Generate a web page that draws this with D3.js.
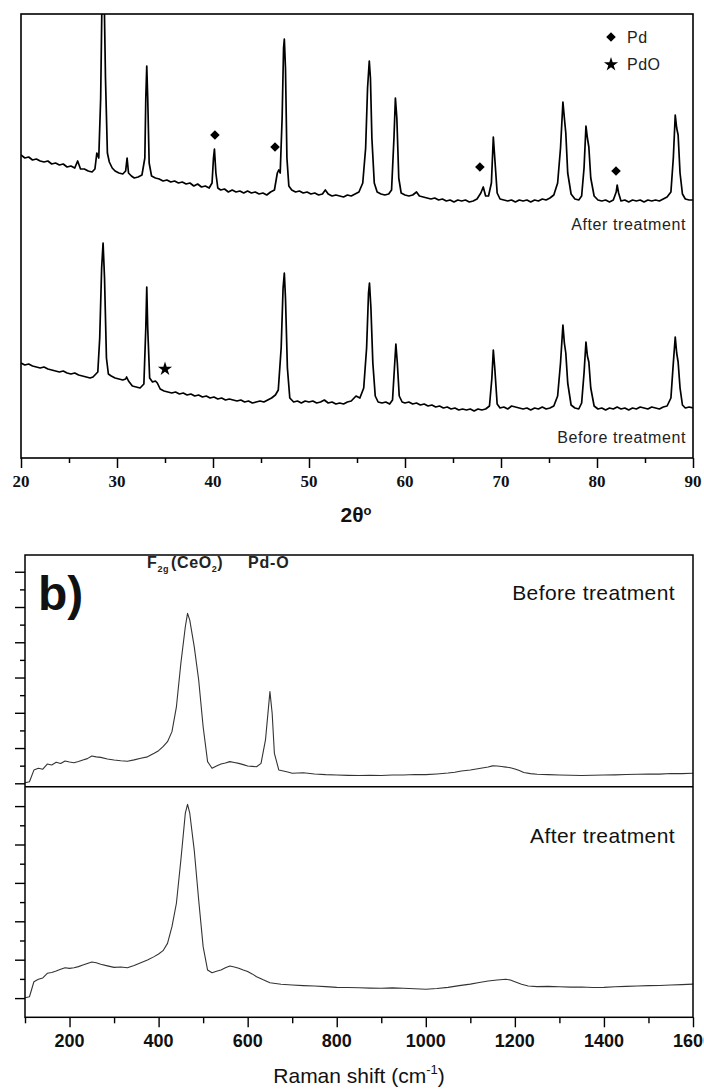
<!DOCTYPE html>
<html><head><meta charset="utf-8">
<script src="https://cdn.jsdelivr.net/npm/d3@7"></script>
<style>
html,body{margin:0;padding:0;background:#fff;}
svg{display:block;}
</style></head>
<body>
<svg id="chart" width="704" height="1090"></svg>
<script>
// ---------- DATA ----------
// XRD: 2θ (deg), intensity (a.u., traces already offset)
const xrdTicks = [20,30,40,50,60,70,80,90];
const xrdAfter = [[20.0,303],[20.4,300],[20.8,301],[21.2,298],[21.6,299],[22.0,297],[22.4,296],[22.8,297],[23.2,294],[23.6,295],[24.0,293],[24.4,294],[24.8,291],[25.2,292],[25.6,290],[25.9,297],[26.2,289],[26.6,289],[27.0,287],[27.4,286],[27.7,289],[27.9,305],[28.1,300],[28.3,360],[28.45,470],[28.55,480],[28.65,470],[28.8,380],[29.0,305],[29.2,296],[29.5,290],[29.8,287],[30.2,285],[30.6,284],[30.9,287],[31.05,300],[31.2,285],[31.5,282],[31.8,280],[32.2,281],[32.6,283],[32.9,300],[33.0,360],[33.1,392],[33.2,360],[33.35,295],[33.6,282],[34.0,280],[34.4,279],[34.8,277],[35.2,278],[35.6,276],[36.0,277],[36.4,275],[36.8,276],[37.2,274],[37.6,275],[38.0,272],[38.4,274],[38.8,271],[39.2,272],[39.6,270],[39.9,275],[40.05,300],[40.15,309],[40.3,285],[40.5,270],[40.8,268],[41.2,269],[41.6,266],[42.0,268],[42.4,266],[42.8,267],[43.2,265],[43.6,267],[44.0,265],[44.4,266],[44.8,264],[45.2,265],[45.6,263],[46.0,266],[46.4,268],[46.7,285],[46.85,288],[47.0,285],[47.2,340],[47.35,410],[47.43,419],[47.55,390],[47.7,300],[47.9,272],[48.2,268],[48.6,266],[49.0,267],[49.4,265],[49.8,266],[50.2,264],[50.6,265],[51.0,263],[51.4,264],[51.7,268],[52.0,264],[52.4,262],[52.8,263],[53.2,262],[53.6,261],[54.0,263],[54.4,262],[54.8,264],[55.2,266],[55.6,275],[55.9,310],[56.1,370],[56.28,397],[56.4,380],[56.55,320],[56.8,275],[57.1,266],[57.5,264],[57.9,263],[58.3,264],[58.6,268],[58.85,320],[59.0,360],[59.15,340],[59.35,280],[59.6,265],[60.0,263],[60.4,262],[60.8,263],[61.2,266],[61.5,262],[61.9,261],[62.3,260],[62.7,259],[63.1,260],[63.5,258],[63.9,259],[64.3,257],[64.7,258],[65.1,256],[65.5,258],[65.9,257],[66.3,258],[66.7,256],[67.1,257],[67.5,259],[67.9,265],[68.15,271],[68.4,262],[68.7,262],[69.0,275],[69.2,321],[69.35,300],[69.6,265],[69.9,259],[70.3,258],[70.7,257],[71.1,258],[71.5,256],[71.9,258],[72.3,257],[72.7,258],[73.1,256],[73.5,258],[73.9,257],[74.3,259],[74.7,258],[75.1,260],[75.5,263],[75.9,275],[76.2,310],[76.45,356],[76.6,340],[76.75,325],[76.95,285],[77.3,264],[77.7,259],[78.1,258],[78.4,262],[78.65,290],[78.85,332],[79.0,320],[79.15,311],[79.35,280],[79.7,262],[80.1,258],[80.5,257],[80.9,258],[81.3,256],[81.7,258],[82.0,266],[82.1,273],[82.25,265],[82.5,257],[82.9,258],[83.3,256],[83.7,258],[84.1,257],[84.5,258],[84.9,256],[85.3,258],[85.7,257],[86.1,258],[86.5,257],[86.9,259],[87.3,261],[87.7,266],[87.95,300],[88.15,343],[88.3,330],[88.45,323],[88.65,285],[88.9,264],[89.2,259],[89.6,258],[90.0,258]];
const xrdBefore = [[20.0,95],[20.4,93],[20.8,94],[21.2,92],[21.6,91],[22.0,90],[22.4,91],[22.8,89],[23.2,88],[23.6,87],[24.0,86],[24.4,87],[24.8,85],[25.2,84],[25.6,85],[26.0,83],[26.4,82],[26.8,81],[27.2,80],[27.5,81],[27.8,84],[28.0,86],[28.2,120],[28.4,190],[28.55,215],[28.7,180],[28.9,100],[29.1,84],[29.4,82],[29.8,80],[30.2,79],[30.6,78],[30.9,79],[31.0,81],[31.2,77],[31.6,72],[32.0,71],[32.4,70],[32.8,74],[33.0,130],[33.1,171],[33.2,130],[33.4,80],[33.7,76],[34.0,77],[34.2,75],[34.5,69],[34.9,67],[35.3,66],[35.7,65],[36.1,66],[36.5,64],[36.9,65],[37.3,63],[37.7,64],[38.1,62],[38.5,63],[38.9,61],[39.3,62],[39.7,60],[40.1,61],[40.5,59],[40.9,60],[41.3,58],[41.7,59],[42.1,58],[42.5,57],[42.9,58],[43.3,56],[43.7,57],[44.1,55],[44.5,56],[44.9,57],[45.3,56],[45.7,58],[46.1,60],[46.5,63],[46.8,68],[47.1,110],[47.3,170],[47.43,185],[47.55,160],[47.75,90],[48.0,60],[48.4,56],[48.8,57],[49.2,55],[49.6,57],[50.0,56],[50.4,57],[50.8,55],[51.2,56],[51.6,58],[52.0,55],[52.4,56],[52.8,54],[53.2,55],[53.6,54],[54.0,56],[54.4,57],[54.9,62],[55.3,60],[55.7,70],[56.0,110],[56.2,165],[56.3,175],[56.45,150],[56.65,95],[56.9,62],[57.2,56],[57.6,55],[58.0,56],[58.4,54],[58.7,58],[58.9,90],[59.05,114],[59.2,95],[59.4,62],[59.7,56],[60.0,55],[60.4,56],[60.8,54],[61.2,55],[61.6,53],[62.0,54],[62.4,52],[62.8,53],[63.2,51],[63.6,52],[64.0,50],[64.4,51],[64.8,49],[65.2,50],[65.6,48],[66.0,49],[66.4,48],[66.8,49],[67.2,47],[67.6,49],[68.0,48],[68.4,49],[68.8,52],[69.05,80],[69.2,108],[69.35,90],[69.6,54],[69.9,50],[70.3,51],[70.7,49],[71.1,52],[71.5,51],[71.9,50],[72.3,49],[72.7,50],[73.1,48],[73.5,50],[73.9,49],[74.3,51],[74.7,49],[75.1,50],[75.5,52],[75.9,62],[76.2,95],[76.45,133],[76.6,115],[76.75,105],[76.95,75],[77.3,53],[77.7,50],[78.1,49],[78.4,55],[78.65,85],[78.85,116],[79.0,102],[79.15,96],[79.35,70],[79.7,52],[80.1,49],[80.5,50],[80.9,48],[81.3,50],[81.7,49],[82.1,51],[82.5,49],[82.9,50],[83.3,48],[83.7,50],[84.1,49],[84.5,51],[84.9,50],[85.3,49],[85.7,51],[86.1,50],[86.5,49],[86.9,51],[87.3,52],[87.7,60],[87.95,95],[88.15,121],[88.3,105],[88.45,96],[88.65,70],[88.9,53],[89.2,50],[89.6,51],[90.0,50]];
const pdMarks = [[40.2,323],[46.46,311],[67.8,291],[81.98,287]];
const pdoMarks = [[35.0,89]];
const legendItems = ["Pd","PdO"];
const xrdLabels = ["After treatment","Before treatment"];

// Raman: shift (cm^-1), intensity (a.u.)
const ramanTicks = [200,400,600,800,1000,1200,1400,1600];
const ramanBefore = [[100,3],[110,9],[120,75],[130,85],[140,80],[150,109],[160,104],[170,119],[180,112],[190,126],[200,121],[210,117],[220,124],[230,132],[240,140],[250,155],[260,150],[270,147],[285,138],[300,132],[315,128],[330,125],[345,133],[360,142],[375,150],[390,170],[400,185],[410,208],[420,236],[430,293],[440,434],[450,681],[460,888],[465,964],[470,926],[480,775],[490,586],[500,321],[510,123],[520,85],[530,98],[540,109],[550,115],[560,123],[570,118],[580,113],[590,106],[600,98],[610,96],[620,94],[630,113],[640,246],[650,520],[655,397],[660,170],[670,75],[680,70],[690,64],[700,57],[725,60],[750,53],[775,49],[800,47],[825,45],[850,44],[875,46],[900,44],[925,47],[950,47],[975,50],[1000,49],[1025,53],[1050,58],[1065,63],[1080,70],[1100,75],[1120,84],[1140,92],[1150,99],[1160,98],[1170,95],[1180,92],[1190,88],[1200,81],[1210,72],[1220,61],[1235,55],[1250,51],[1275,49],[1300,47],[1325,46],[1350,44],[1375,46],[1400,47],[1425,48],[1450,50],[1475,51],[1500,53],[1525,52],[1550,56],[1575,55],[1600,57]];
const ramanAfter = [[100,102],[110,107],[120,185],[130,198],[140,205],[150,229],[160,233],[170,241],[180,250],[190,258],[200,255],[210,258],[220,264],[230,272],[240,280],[250,288],[260,284],[270,276],[285,268],[300,260],[315,262],[330,258],[345,270],[360,284],[375,298],[390,316],[400,330],[410,347],[420,385],[430,472],[440,594],[450,819],[460,1063],[465,1109],[470,1063],[480,871],[490,611],[500,368],[510,246],[520,232],[530,240],[540,246],[550,258],[560,267],[570,262],[580,255],[590,246],[600,238],[610,226],[620,211],[635,195],[650,180],[675,172],[700,168],[725,165],[750,163],[775,160],[800,156],[825,155],[850,154],[875,152],[900,151],[925,153],[950,151],[975,149],[1000,146],[1025,150],[1050,156],[1075,165],[1100,173],[1120,181],[1140,189],[1160,194],[1180,198],[1190,194],[1200,185],[1215,172],[1230,163],[1250,160],[1275,161],[1300,159],[1325,157],[1350,158],[1375,155],[1400,156],[1425,159],[1450,161],[1475,163],[1500,165],[1525,166],[1550,168],[1575,170],[1600,173]];
const ramanLabels = ["Before treatment","After treatment"];

// ---------- DRAW ----------
const svg = d3.select("#chart");
const SANS = "'Liberation Sans',Arial,Helvetica,sans-serif";

// ===== Panel a: XRD =====
const xX = d3.scaleLinear().domain([20,90]).range([21,693]);
const yX = d3.scaleLinear().domain([0,444]).range([458,14]);

svg.append("clipPath").attr("id","clipX").append("rect")
  .attr("x",21).attr("y",14).attr("width",672).attr("height",444);

const lineX = d3.line().x(d=>xX(d[0])).y(d=>yX(d[1]));
const gX = svg.append("g").attr("clip-path","url(#clipX)");
[xrdAfter, xrdBefore].forEach(s=>{
  gX.append("path").attr("d",lineX(s)).attr("fill","none")
    .attr("stroke","#000").attr("stroke-width",1.7).attr("stroke-linejoin","round");
});

// frame
svg.append("rect").attr("x",xX(20)).attr("y",yX(444)).attr("width",xX(90)-xX(20)).attr("height",yX(0)-yX(444))
  .attr("fill","none").attr("stroke","#000").attr("stroke-width",1.6);

// x axis
const axX = d3.axisBottom(xX).tickValues(d3.range(20,91,5)).tickSize(0).tickFormat("");
const gAx = svg.append("g").attr("transform",`translate(0,${yX(0)})`).call(axX);
gAx.select(".domain").remove();
gAx.selectAll(".tick line").attr("y2",d=>d%10===0?10:5).attr("stroke","#000").attr("stroke-width",1.5);
svg.append("g").selectAll("text").data(xrdTicks).join("text")
  .attr("x",d=>xX(d)).attr("y",487).attr("text-anchor","middle")
  .attr("font-family","'Liberation Serif','Times New Roman',serif").attr("font-weight","bold")
  .attr("font-size",17).attr("fill","#111").text(d=>d);
const t2 = svg.append("text").attr("x",356).attr("y",522).attr("text-anchor","middle")
  .attr("font-family",SANS).attr("font-weight","bold").attr("font-size",21).attr("fill","#111");
t2.append("tspan").text("2θ");
t2.append("tspan").attr("dy",-7).attr("font-size",13).text("o");

// markers
svg.append("g").selectAll("path").data(pdMarks).join("path")
  .attr("d",d3.symbol(d3.symbolSquare,46))
  .attr("transform",d=>`translate(${xX(d[0])},${yX(d[1])}) rotate(45)`).attr("fill","#000");
svg.append("g").selectAll("path").data(pdoMarks).join("path")
  .attr("d",d3.symbol(d3.symbolStar,62))
  .attr("transform",d=>`translate(${xX(d[0])},${yX(d[1])})`).attr("fill","#000");

// legend
svg.append("path").attr("d",d3.symbol(d3.symbolSquare,46)()).attr("transform","translate(611,37) rotate(45)").attr("fill","#000");
svg.append("path").attr("d",d3.symbol(d3.symbolStar,62)()).attr("transform","translate(611,64.5)").attr("fill","#000");
svg.append("g").selectAll("text").data(legendItems).join("text")
  .attr("x",627).attr("y",(d,i)=>42.5+i*27.5)
  .attr("font-family",SANS).attr("font-size",16).attr("letter-spacing",0.5)
  .attr("fill","#222").text(d=>d);

svg.append("g").selectAll("text").data(xrdLabels).join("text")
  .attr("x",686).attr("y",(d,i)=>i===0?230:443).attr("text-anchor","end")
  .attr("font-family",SANS).attr("font-size",16).attr("letter-spacing",0.6)
  .attr("fill","#222").text(d=>d);

// ===== Panel b: Raman =====
const xR = d3.scaleLinear().domain([100,1600]).range([25,693]);
const yR1 = d3.scaleLinear().domain([-19.3,1295]).range([786.7,555]);
const yR2 = d3.scaleLinear().domain([0,1201]).range([1017.3,786.7]);

const l1 = d3.line().x(d=>xR(d[0])).y(d=>yR1(d[1]));
const l2 = d3.line().x(d=>xR(d[0])).y(d=>yR2(d[1]));
svg.append("path").attr("d",l1(ramanBefore)).attr("fill","none").attr("stroke","#333").attr("stroke-width",1.1).attr("stroke-linejoin","round");
svg.append("path").attr("d",l2(ramanAfter)).attr("fill","none").attr("stroke","#333").attr("stroke-width",1.1).attr("stroke-linejoin","round");

// frames
svg.append("rect").attr("x",25).attr("y",yR1.range()[1]).attr("width",668).attr("height",yR2(0)-yR1.range()[1])
  .attr("fill","none").attr("stroke","#000").attr("stroke-width",1.5);
svg.append("line").attr("x1",25).attr("x2",693).attr("y1",786.7).attr("y2",786.7).attr("stroke","#000").attr("stroke-width",1.5);

// y ticks (outward left)
const gy1 = svg.append("g").attr("transform","translate(25,0)")
  .call(d3.axisLeft(yR1).tickValues(d3.range(0,1201,100)).tickFormat("").tickSize(0));
gy1.select(".domain").remove();
gy1.selectAll(".tick line").attr("x2",d=>d%200===0?-10:-5).attr("stroke","#000").attr("stroke-width",1.4);
const gy2 = svg.append("g").attr("transform","translate(25,0)")
  .call(d3.axisLeft(yR2).tickValues(d3.range(100,1101,100)).tickFormat("").tickSize(0));
gy2.select(".domain").remove();
gy2.selectAll(".tick line").attr("x2",d=>d%200===100?-10:-5).attr("stroke","#000").attr("stroke-width",1.4);

// x axis
const gxR = svg.append("g").attr("transform",`translate(0,${yR2(0)})`)
  .call(d3.axisBottom(xR).tickValues(d3.range(100,1601,100)).tickFormat("").tickSize(0));
gxR.select(".domain").remove();
gxR.selectAll(".tick line").attr("y2",d=>d%200===0?10:6).attr("stroke","#000").attr("stroke-width",1.4);
svg.append("g").selectAll("text").data(ramanTicks).join("text")
  .attr("x",d=>xR(d)).attr("y",1047).attr("text-anchor","middle")
  .attr("font-family",SANS).attr("font-weight","bold")
  .attr("font-size",18).attr("fill","#111").text(d=>d);

const tR = svg.append("text").attr("x",359).attr("y",1083).attr("text-anchor","middle")
  .attr("font-family",SANS).attr("font-size",21).attr("fill","#111");
tR.append("tspan").text("Raman shift (cm");
tR.append("tspan").attr("dy",-9).attr("font-size",13).text("-1");
tR.append("tspan").attr("dy",9).text(")");

// annotations
svg.append("text").attr("x",38).attr("y",610).attr("font-family",SANS)
  .attr("font-weight","bold").attr("font-size",48).attr("fill","#111").text("b)");
const tf = svg.append("text").attr("x",147).attr("y",568).attr("font-family",SANS)
  .attr("font-weight","bold").attr("font-size",16).attr("letter-spacing",0.6).attr("fill","#222");
tf.append("tspan").text("F");
tf.append("tspan").attr("dy",4).attr("font-size",9).text("2g");
tf.append("tspan").attr("dy",-4).attr("dx",2).text("(CeO");
tf.append("tspan").attr("dy",4).attr("font-size",9).text("2");
tf.append("tspan").attr("dy",-4).text(")");
svg.append("text").attr("x",248).attr("y",568).attr("font-family",SANS)
  .attr("font-weight","bold").attr("font-size",16).attr("letter-spacing",0.8).attr("fill","#222").text("Pd-O");

svg.append("g").selectAll("text").data(ramanLabels).join("text")
  .attr("x",675).attr("y",(d,i)=>i===0?600:843).attr("text-anchor","end")
  .attr("font-family",SANS).attr("font-size",21).attr("letter-spacing",0.4)
  .attr("fill","#111").text(d=>d);
</script>
</body></html>
